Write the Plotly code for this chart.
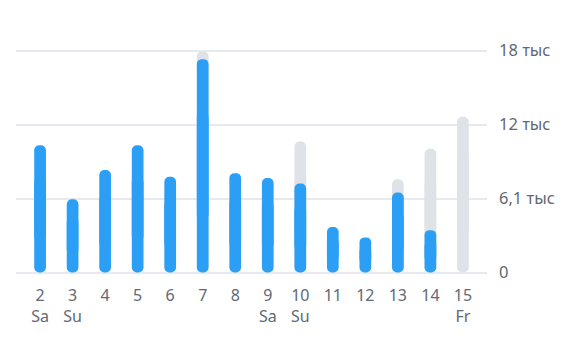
import plotly.graph_objects as go

days = [2, 3, 4, 5, 6, 7, 8, 9, 10, 11, 12, 13, 14, 15]
weekdays = ["Sa", "Su", "", "", "", "", "", "Sa", "Su", "", "", "", "", "Fr"]
actual = [10500, 6050, 8450, 10500, 7900, 17600, 8200, 7800, 7350, 3750, 2900, 6600, 3500, None]
planned = [None, None, None, None, None, 18250, None, None, 10800, None, None, 7700, 10200, 12850]
tick_vals = [0, 6100, 12200, 18300]
tick_text = ["0", "6,1 тыс", "12 тыс", "18 тыс"]

BLUE = "#2b9ef5"
GRAY = "#dfe3e8"
TXT = "#5f6975"
W = 0.36

def capsule(vals, color):
    """Two overlapping bars so both ends of each column are rounded."""
    xs = [d for d, v in zip(days, vals) if v is not None]
    vs = [v for v in vals if v is not None]
    up = go.Bar(x=xs, y=[v * 0.75 for v in vs], base=[v * 0.25 for v in vs], width=W,
                marker=dict(color=color, cornerradius="50%", line_width=0),
                hoverinfo="skip", showlegend=False)
    down = go.Bar(x=xs, y=[-v * 0.75 for v in vs], base=[v * 0.75 for v in vs], width=W,
                  marker=dict(color=color, cornerradius="50%", line_width=0),
                  hoverinfo="skip", showlegend=False)
    return [up, down]

fig = go.Figure()
for t in capsule(planned, GRAY) + capsule(actual, BLUE):
    fig.add_trace(t)

ticktext_x = [f"{d}<br>{w}" if w else f"{d}<br> " for d, w in zip(days, weekdays)]

fig.update_layout(
    width=571, height=339,
    margin=dict(l=16, r=84, t=47, b=64),
    barmode="overlay",
    plot_bgcolor="white", paper_bgcolor="white",
    font=dict(family="'Noto Sans', sans-serif", size=16, color=TXT),
    xaxis=dict(range=[1.26, 15.74], tickmode="array", tickvals=days, ticktext=ticktext_x,
               showgrid=False, zeroline=False, showline=False, ticks="", ticklabelstandoff=9,
               tickfont=dict(size=16, color=TXT)),
    yaxis=dict(range=[-200, 18600], side="right", tickmode="array", tickvals=tick_vals, ticktext=tick_text,
               showgrid=True, gridcolor="#e6e9ee", gridwidth=1.5, zeroline=False, showline=False,
               ticks="", ticklabelstandoff=11, tickfont=dict(size=16.5, color=TXT)),
)

fig.write_html("out.html")
